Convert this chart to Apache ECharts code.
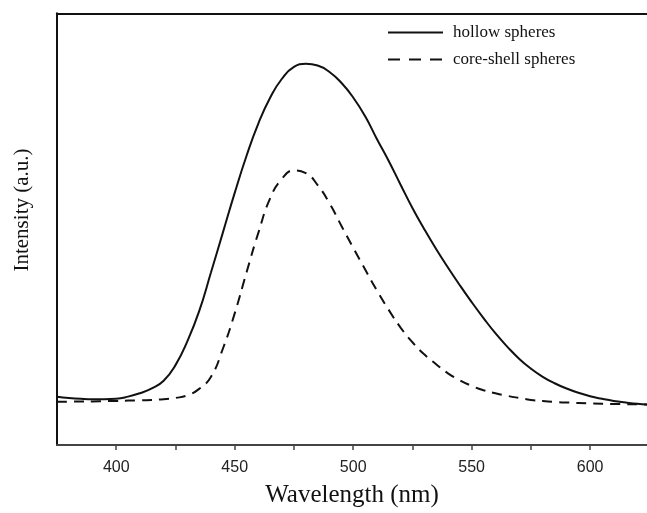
<!DOCTYPE html>
<html>
<head>
<meta charset="utf-8">
<script src="https://cdn.jsdelivr.net/npm/echarts@6/dist/echarts.min.js"></script>
<style>
html,body{margin:0;padding:0;background:#fff;}
#chart{width:647px;height:513px;}
</style>
</head>
<body>
<div id="chart"></div>
<script>
// Wavelength (nm) and intensity (a.u.)
var hollowX = [375, 380, 385, 390, 395, 400, 405, 410, 415, 420, 425, 430, 435, 440, 445, 450, 455, 460, 465, 470, 475, 480, 485, 490, 495, 500, 505, 510, 515, 520, 525, 530, 535, 540, 545, 550, 555, 560, 565, 570, 575, 580, 585, 590, 595, 600, 605, 610, 615, 620, 624];
var hollowY = [11.2, 10.9, 10.7, 10.6, 10.6, 10.7, 11.2, 12.0, 13.1, 14.9, 18.5, 24.0, 31.0, 40.0, 49.2, 58.4, 67.0, 74.5, 80.5, 84.9, 87.6, 88.3, 87.9, 86.4, 83.9, 80.5, 76.2, 70.9, 65.8, 60.3, 54.9, 50.0, 45.4, 41.1, 37.0, 33.1, 29.4, 25.9, 22.8, 20.0, 17.7, 15.8, 14.3, 13.1, 12.1, 11.3, 10.7, 10.2, 9.85, 9.55, 9.4];
var coreX = [375, 380, 385, 390, 395, 400, 405, 410, 415, 420, 425, 430, 435, 440, 445, 450, 455, 460, 465, 470, 475, 480, 485, 490, 495, 500, 505, 510, 515, 520, 525, 530, 535, 540, 545, 550, 555, 560, 565, 570, 575, 580, 585, 590, 600, 610, 624];
var coreY = [10.0, 10.05, 10.1, 10.1, 10.15, 10.2, 10.3, 10.35, 10.45, 10.6, 10.9, 11.5, 13.0, 15.8, 22.3, 30.5, 40.0, 49.2, 57.2, 61.7, 63.6, 63.0, 60.2, 56.0, 50.8, 45.7, 40.7, 35.8, 31.3, 27.2, 23.8, 21.0, 18.7, 16.6, 15.0, 13.7, 12.7, 12.0, 11.4, 10.9, 10.45, 10.2, 10.0, 9.85, 9.65, 9.5, 9.4];
var seriesNames = ['hollow spheres', 'core-shell spheres'];
var xTickLabels = [400, 450, 500, 550, 600];

function pairs(xs, ys) { return xs.map(function (x, i) { return [x, ys[i]]; }); }

var chart = echarts.init(document.getElementById('chart'), null, {renderer: 'canvas'});
chart.setOption({
  animation: false,
  backgroundColor: '#fff',
  grid: {left: 57, top: 13.3, right: 0, bottom: 66.3, containLabel: false},
  legend: {
    orient: 'vertical', left: 382, top: 19, itemWidth: 55, itemHeight: 14, itemGap: 10,
    data: [{name: seriesNames[0]}, {name: seriesNames[1], lineStyle: {type: [12, 9]}}],
    itemStyle: {opacity: 0},
    textStyle: {fontFamily: 'Liberation Serif', fontSize: 17, color: '#111', padding: [0, 0, 0, 5]}
  },
  xAxis: [{
    type: 'value', min: 375, max: 624, interval: 25, position: 'bottom',
    name: 'Wavelength (nm)', nameLocation: 'middle', nameGap: 38,
    nameTextStyle: {fontFamily: 'Liberation Serif', fontSize: 25, color: '#111'},
    axisLine: {show: true, onZero: false, lineStyle: {color: '#444', width: 2}},
    axisTick: {show: true, inside: false, length: 5, lineStyle: {color: '#444', width: 1.5}},
    axisLabel: {
      margin: 15, fontFamily: 'Liberation Sans', fontSize: 16, color: '#222',
      showMinLabel: false, showMaxLabel: false,
      formatter: function (v) { return xTickLabels.indexOf(v) >= 0 ? String(v) : ''; }
    },
    splitLine: {show: false}
  }, {
    type: 'value', min: 375, max: 624, position: 'top',
    axisLine: {show: true, onZero: false, lineStyle: {color: '#111', width: 2}},
    axisTick: {show: false}, axisLabel: {show: false}, splitLine: {show: false}
  }],
  yAxis: {
    type: 'value', min: 0, max: 100,
    axisLine: {show: true, onZero: false, lineStyle: {color: '#111', width: 2}},
    axisTick: {show: false}, axisLabel: {show: false}, splitLine: {show: false}
  },
  graphic: [{
    type: 'text', x: 22, y: 210, rotation: Math.PI / 2,
    style: {text: 'Intensity (a.u.)', font: '21px "Liberation Serif"', fill: '#111',
            align: 'center', verticalAlign: 'middle', textAlign: 'center', textVerticalAlign: 'middle'}
  }],
  series: [{
    name: seriesNames[0], type: 'line', data: pairs(hollowX, hollowY),
    smooth: 0.5, symbol: 'none', showSymbol: false,
    lineStyle: {color: '#111', width: 2, type: 'solid'}, itemStyle: {color: '#111'}
  }, {
    name: seriesNames[1], type: 'line', data: pairs(coreX, coreY),
    smooth: 0.5, symbol: 'none', showSymbol: false,
    lineStyle: {color: '#111', width: 2, type: [10, 7]}, itemStyle: {color: '#111'}
  }]
});
</script>
</body>
</html>
